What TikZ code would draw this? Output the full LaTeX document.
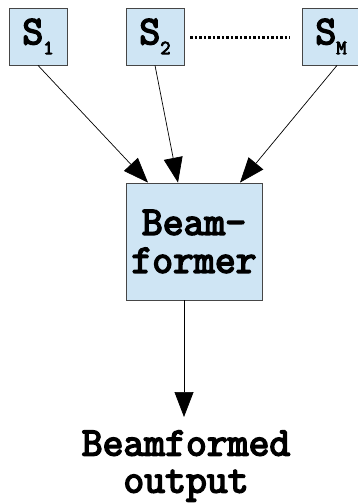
\documentclass[tikz,border=0pt]{standalone}
\usepackage{fontspec}
\newfontfamily\courfont{Latin Modern Mono}[FakeBold=4]
\usetikzlibrary{arrows.meta}
\definecolor{boxfill}{RGB}{207,229,244}
\definecolor{boxline}{RGB}{70,70,70}
\tikzset{
  blk/.style={draw=boxline, fill=boxfill, line width=0.8pt, inner sep=0pt, align=center,
    font=\courfont\fontsize{40.5}{38}\selectfont},
  conn/.style={line width=0.7pt, -{Triangle[length=25pt,width=19pt]}},
  lbl/.style={inner sep=0pt, align=center, font=\courfont\fontsize{40.5}{37}\selectfont}
}
\newcommand{\sub}[1]{\raisebox{-10pt}{\fontsize{20}{20}\selectfont #1}}
\begin{document}
\begin{tikzpicture}[x=1pt,y=-1pt]
\clip (0,0) rectangle (358,503);
\node[blk, minimum width=58pt, minimum height=57pt] (s1) at (38,36.5) {S\sub{1}};
\node[blk, minimum width=58pt, minimum height=57pt] (s2) at (155,36.5) {S\sub{2}};
\node[blk, minimum width=58pt, minimum height=57pt] (sM) at (331,36.5) {S\sub{M}};
\node[blk, minimum width=136pt, minimum height=117pt] (bf) at (194,241.5) {Beam-\\former};
\node[lbl] (out) at (186,466) {Beamformed\\output};
\draw[line width=2.5pt, dash pattern=on 2.5pt off 2pt] ([xshift=6pt,yshift=-1pt]s2.east) -- ([xshift=-12pt,yshift=-1pt]sM.west);
\draw[conn] (s1.south) -- ([xshift=-46pt]bf.north);
\draw[conn] (s2.south) -- ([xshift=-16pt]bf.north);
\draw[conn] ([xshift=6pt]sM.south) -- ([xshift=46pt]bf.north);
\coordinate (outtip) at (184,417);
\draw[conn] (bf.south -| outtip) -- (outtip);
\end{tikzpicture}
\end{document}
